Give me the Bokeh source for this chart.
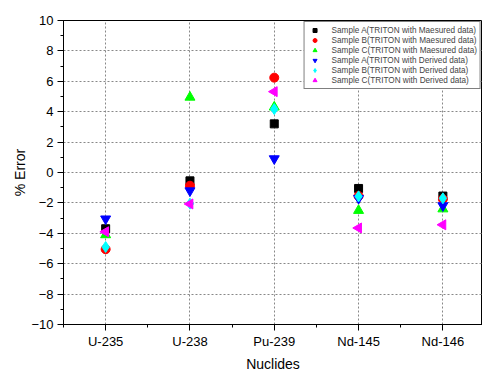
import math
from bokeh.plotting import figure
from bokeh.models import FixedTicker, Legend, LegendItem, Range1d
from bokeh.embed import file_html
from bokeh.resources import INLINE

nuclides = ["U-235", "U-238", "Pu-239", "Nd-145", "Nd-146"]
sample_a_meas = [-3.7, -0.55, 3.2, -1.05, -1.55]
sample_b_meas = [-5.05, -0.87, 6.24, -1.55, -1.75]
sample_c_meas = [-4.1, 4.95, 4.3, -2.5, -2.4]
sample_a_der = [-3.05, -1.2, 0.91, -1.7, -2.18]
sample_b_der = [-4.9, -2.05, 4.17, -1.57, -1.7]
sample_c_der = [-3.9, -2.07, 5.32, -3.65, -3.44]

series = [
    ("Sample A(TRITON with Maesured data)", sample_a_meas, "square", "#000000", 0.0, 8),
    ("Sample B(TRITON with Maesured data)", sample_b_meas, "circle", "#FF0000", 0.0, 9),
    ("Sample C(TRITON with Maesured data)", sample_c_meas, "triangle", "#00FF00", 0.0, 10),
    ("Sample A(TRITON with Derived data)", sample_a_der, "inverted_triangle", "#0000FF", 0.0, 10),
    ("Sample B(TRITON with Derived data)", sample_b_der, "diamond", "#00FFFF", 0.0, 11),
    ("Sample C(TRITON with Derived data)", sample_c_der, "triangle", "#FF00FF", math.pi / 2, 10),
]

xs = [i + 1 for i in range(len(nuclides))]

FONT = "Liberation Sans"

p = figure(width=482, height=374, output_backend="svg", toolbar_location=None,
           x_range=Range1d(0.5, 5.47), y_range=Range1d(-10, 10),
           min_border_left=63, min_border_top=20, min_border_bottom=47, min_border_right=0)
p.background_fill_color = "white"
p.border_fill_color = "white"
p.outline_line_color = "black"
p.outline_line_width = 1

items = []
for label, vals, marker, color, ang, sz in series:
    r = p.scatter(xs, vals, marker=marker, size=sz, fill_color=color, line_color=color,
                  angle=ang)
    items.append(LegendItem(label=label, renderers=[r]))

p.xaxis.ticker = FixedTicker(ticks=xs, minor_ticks=[x + 0.5 for x in range(0, 6)])
p.xaxis.major_label_overrides = {x: n for x, n in zip(xs, nuclides)}
p.yaxis.ticker = FixedTicker(ticks=list(range(-10, 11, 2)), minor_ticks=list(range(-10, 11, 1)))

for ax in (p.xaxis[0], p.yaxis[0]):
    ax.axis_line_color = "black"
    ax.major_tick_line_color = "black"
    ax.minor_tick_line_color = "black"
    ax.major_tick_out = 6
    ax.major_tick_in = 0
    ax.minor_tick_out = 3
    ax.minor_tick_in = 0
    ax.major_label_text_font = FONT
    ax.major_label_text_font_size = "13px"
    ax.major_label_text_color = "black"
    ax.axis_label_text_font = FONT
    ax.axis_label_text_font_size = "14px"
    ax.axis_label_text_font_style = "normal"
    ax.axis_label_text_color = "black"

p.xaxis.axis_label = "Nuclides"
p.yaxis.axis_label = "% Error"
p.xaxis.major_label_standoff = 3
p.xaxis.axis_label_standoff = 4
p.yaxis.major_label_standoff = 4
p.yaxis.axis_label_standoff = 0

p.xgrid.ticker = FixedTicker(ticks=xs)
p.ygrid.ticker = FixedTicker(ticks=list(range(-8, 9, 2)))
for g in (p.xgrid[0], p.ygrid[0]):
    g.grid_line_color = "#888888"
    g.grid_line_dash = "2 2"
    g.grid_line_width = 1

legend = Legend(items=items, location="top_right")
legend.margin = 1
legend.padding = 3
legend.spacing = 0
legend.label_text_font = FONT
legend.label_text_font_size = "8.2px"
legend.label_height = 10
legend.glyph_height = 10
legend.glyph_width = 14
legend.label_standoff = 10
legend.border_line_color = "black"
legend.border_line_width = 1
legend.background_fill_alpha = 1
p.add_layout(legend)

open("out.html", "w").write(file_html(p, INLINE))
